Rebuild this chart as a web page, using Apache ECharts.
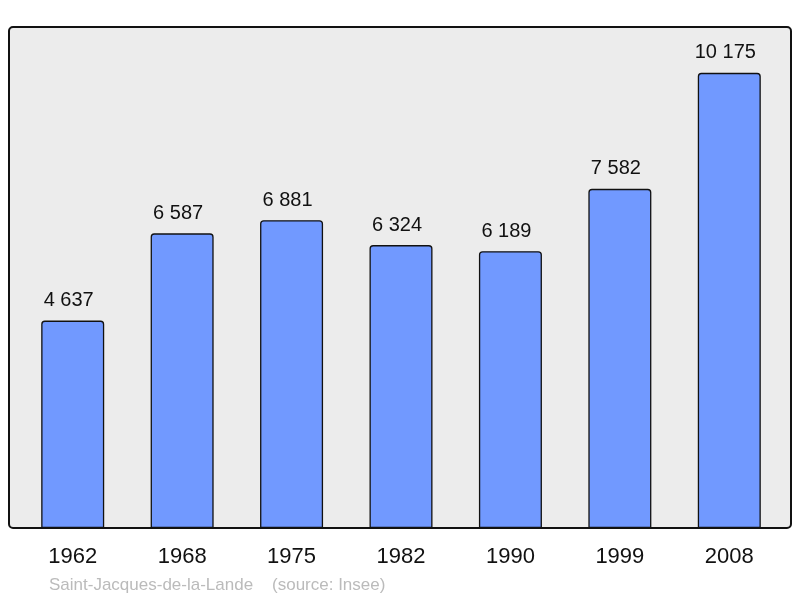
<!DOCTYPE html>
<html><head><meta charset="utf-8">
<script src="https://cdn.jsdelivr.net/npm/echarts@6/dist/echarts.min.js"></script>
<style>html,body{margin:0;padding:0;background:#fff}#c{width:800px;height:598px}</style>
</head><body><div id="c"></div>
<script>
const categories = ['1962','1968','1975','1982','1990','1999','2008'];
const population = [4637, 6587, 6881, 6324, 6189, 7582, 10175];
const footer = 'Saint-Jacques-de-la-Lande    (source: Insee)';
const fmt = v => String(v).replace(/\B(?=(\d{3})+(?!\d))/g, ' ');
const FONT = '"Liberation Sans", Arial, sans-serif';
const chart = echarts.init(document.getElementById('c'), null, {renderer:'canvas'});
chart.setOption({
  animation: false,
  graphic: [
    {type:'rect', z:-10, shape:{x:9, y:27, width:782, height:501, r:4},
     style:{fill:'#ececec', stroke:'#111', lineWidth:2}},
    {type:'text', left:49, top:577, style:{text:footer, fill:'#bbbbbb', font:'17px ' + FONT}}
  ],
  grid: {left:18, right:16, top:27, bottom:70, containLabel:false},
  xAxis: {type:'category', data:categories, axisLine:{show:false}, axisTick:{show:false},
    axisLabel:{color:'#111', fontSize:22, fontFamily:FONT, margin:18}},
  yAxis: {type:'value', min:0, max:11200, show:false, splitLine:{show:false}},
  series: [{type:'bar', data:population, barWidth:63,
    itemStyle:{color:'#7199ff', borderColor:'#111', borderWidth:1.3, borderRadius:[3,3,0,0]},
    label:{show:true, position:'top', distance:10, offset:[-4,0], color:'#111', fontSize:20,
      fontFamily:FONT, formatter:p=>fmt(p.value)}}]
});
</script></body></html>
